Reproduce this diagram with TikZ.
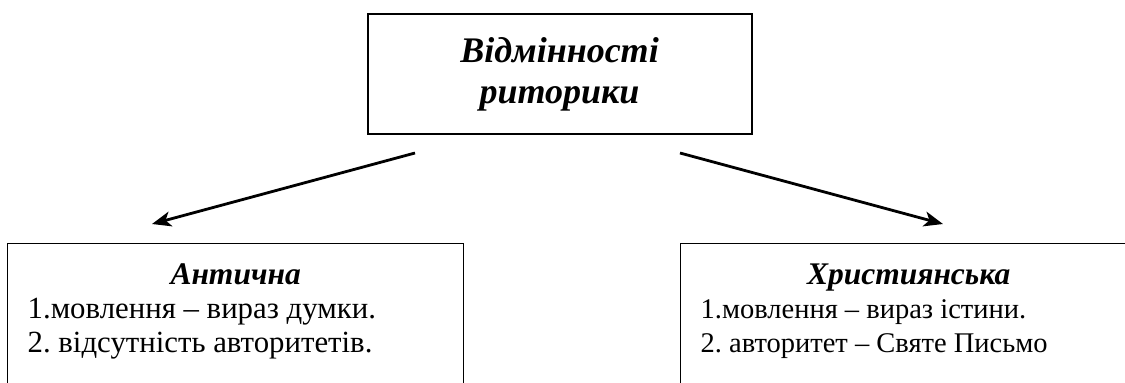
\documentclass[tikz,border=0pt]{standalone}
\usepackage{fontspec}
\setmainfont{Liberation Serif}
\usetikzlibrary{arrows.meta}
\frenchspacing

\newcommand{\kindhead}[1]{{\fontsize{31.5}{34}\selectfont\bfseries\itshape #1}}

\tikzset{
  mainbox/.style={draw, line width=2pt, minimum width=384pt, minimum height=120pt,
    align=center, font=\fontsize{36}{41}\selectfont\bfseries\itshape},
  kindbox/.style={draw, line width=1.3pt, anchor=north west, inner sep=20pt},
  branch/.style={line width=2.8pt, -{Stealth[length=19pt,width=15pt,inset=5pt]}}
}

\begin{document}
\begin{tikzpicture}[x=1pt,y=-1pt]
  \useasboundingbox (0,0) rectangle (1125,383);
  \clip (0,0) rectangle (1125,383);

  % top box
  \node[mainbox] (rhetoric) at (559.5,74) {Відмінності\\риторики};

  % two kinds
  \node[kindbox, font=\fontsize{30.8}{34}\selectfont] (antique) at (7,243)
    {\parbox[t][150pt][t]{416pt}{\centering
    \kindhead{Антична}\par\raggedright
    1.мовлення – вираз думки.\par
    2. відсутність авторитетів.}};
  \node[kindbox, font=\fontsize{28.5}{34}\selectfont] (christian) at (680,243)
    {\parbox[t][150pt][t]{416pt}{\centering
    \kindhead{Християнська}\par\raggedright
    1.мовлення – вираз істини.\par
    2. авторитет – Святе Письмо}};

  % arrows
  \coordinate (antique-from) at (415,153);
  \coordinate (antique-to) at (152,224);
  \coordinate (christian-from) at (680,153);
  \coordinate (christian-to) at (943,224);
  \draw[branch] (antique-from) -- (antique-to);
  \draw[branch] (christian-from) -- (christian-to);
\end{tikzpicture}
\end{document}
